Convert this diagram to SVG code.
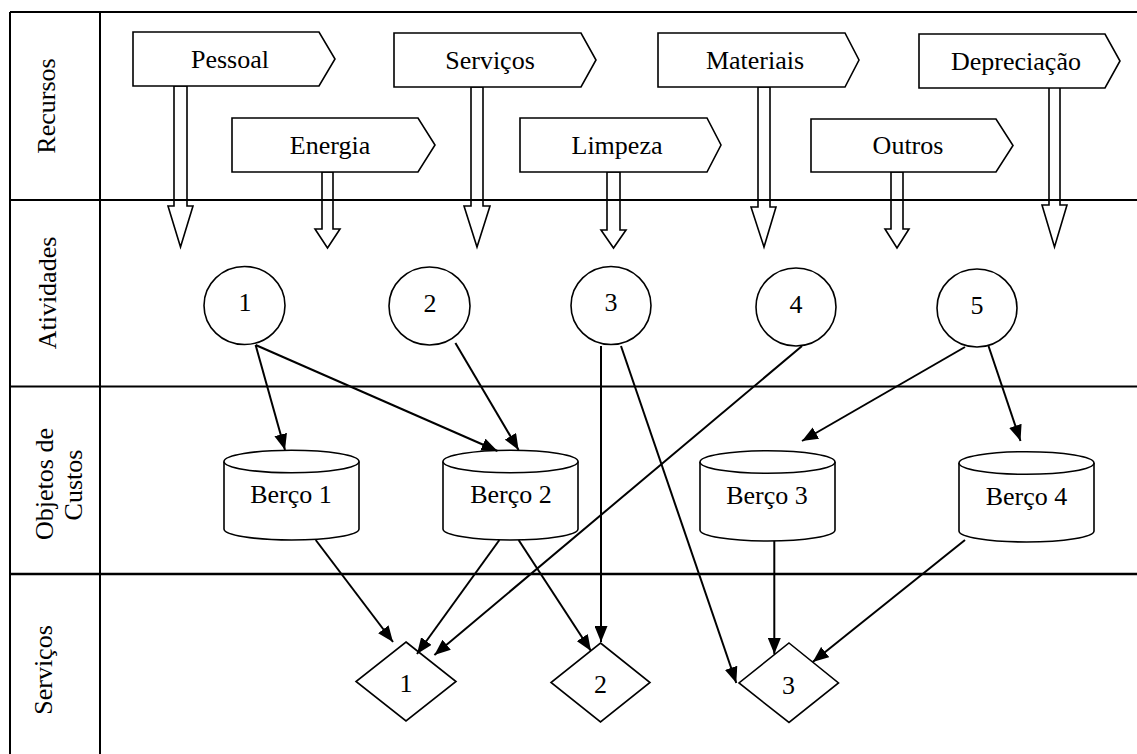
<svg xmlns="http://www.w3.org/2000/svg" width="1137" height="754" viewBox="0 0 1137 754">
  <style>
    text { font-family: "Liberation Serif", "Times New Roman", serif; font-size: 26px; fill: #000; }
    .mid { text-anchor: middle; }
    .shape { fill: #fff; stroke: #000; stroke-width: 1.6; }
    .grid { stroke: #000; stroke-width: 2; fill: none; }
    .conn { stroke: #000; stroke-width: 2; fill: none; marker-end: url(#head); }
  </style>
  <defs>
    <marker id="head" markerUnits="userSpaceOnUse" markerWidth="16" markerHeight="13" refX="16" refY="6.5" orient="auto">
      <path d="M0,0 L16,6.5 L0,13 z" fill="#000"/>
    </marker>
  </defs>

  <rect width="1137" height="754" fill="#fff"/>

  <!-- resource tags with their block arrows -->
  <g id="res-pessoal">
    <polygon class="shape" points="174,86 187,86 187,206 193,206 180.5,247 168,206 174,206"/>
    <polygon class="shape" points="133,32 319,32 335,59 319,86 133,86"/>
    <text class="mid" x="230" y="68">Pessoal</text>
  </g>
  <g id="res-servicos">
    <polygon class="shape" points="471,87 483,87 483,206 490,206 477,247 464,206 471,206"/>
    <polygon class="shape" points="394,33 581,33 596,60 581,87 394,87"/>
    <text class="mid" x="490" y="69">Serviços</text>
  </g>
  <g id="res-materiais">
    <polygon class="shape" points="758,87 770,87 770,207 776,207 764,247 751,207 758,207"/>
    <polygon class="shape" points="658,33 845,33 859,60 845,87 658,87"/>
    <text class="mid" x="755" y="69">Materiais</text>
  </g>
  <g id="res-depreciacao">
    <polygon class="shape" points="1049,87 1060,87 1060,205 1067,205 1054.5,247 1042,205 1049,205"/>
    <polygon class="shape" points="919,34 1105,34 1120,61 1105,88 919,88"/>
    <text class="mid" x="1016" y="70">Depreciação</text>
  </g>
  <g id="res-energia">
    <polygon class="shape" points="322,172 333,172 333,229 340,229 327.5,248 315,229 322,229"/>
    <polygon class="shape" points="232,118 418,118 435,145 418,172 232,172"/>
    <text class="mid" x="330" y="154">Energia</text>
  </g>
  <g id="res-limpeza">
    <polygon class="shape" points="607,172 620,172 620,230 626,230 613.5,248 601,230 607,230"/>
    <polygon class="shape" points="520,118 707,118 721,145 707,172 520,172"/>
    <text class="mid" x="617" y="154">Limpeza</text>
  </g>
  <g id="res-outros">
    <polygon class="shape" points="891,172 903,172 903,229 909,229 897,248 885,229 891,229"/>
    <polygon class="shape" points="811,119 996,119 1013,145.5 996,172 811,172"/>
    <text class="mid" x="908" y="154">Outros</text>
  </g>

  <!-- table frame and swimlane lines -->
  <g id="frame" class="grid">
    <line x1="10" y1="12" x2="1137" y2="12"/>
    <line x1="10" y1="12" x2="10" y2="754"/>
    <line x1="100" y1="12" x2="100" y2="754"/>
    <line x1="10" y1="200" x2="1137" y2="200"/>
    <line x1="10" y1="386.5" x2="1137" y2="386.5"/>
    <line x1="10" y1="574" x2="1137" y2="574" stroke-width="2.6"/>
  </g>

  <!-- lane titles -->
  <g id="lane-labels">
    <text class="mid" transform="translate(55,106) rotate(-90)">Recursos</text>
    <text class="mid" transform="translate(56,293) rotate(-90)">Atividades</text>
    <text class="mid" transform="translate(53,484) rotate(-90)">Objetos de</text>
    <text class="mid" transform="translate(82,485) rotate(-90)">Custos</text>
    <text class="mid" transform="translate(52,670) rotate(-90)">Serviços</text>
  </g>

  <!-- activities -->
  <g id="act-1"><ellipse class="shape" cx="244.5" cy="305.5" rx="40.5" ry="39"/><text class="mid" x="245" y="311">1</text></g>
  <g id="act-2"><ellipse class="shape" cx="429.5" cy="306" rx="40.5" ry="39"/><text class="mid" x="430" y="312">2</text></g>
  <g id="act-3"><ellipse class="shape" cx="611" cy="305.5" rx="40" ry="39"/><text class="mid" x="611" y="311">3</text></g>
  <g id="act-4"><ellipse class="shape" cx="796" cy="307" rx="40" ry="39"/><text class="mid" x="796" y="313">4</text></g>
  <g id="act-5"><ellipse class="shape" cx="977" cy="308" rx="40" ry="39"/><text class="mid" x="977" y="314">5</text></g>

  <!-- cost objects (cylinders) -->
  <g id="berco-1">
    <path class="shape" d="M224,461.5 L224,529 A67.5,11 0 0 0 359,529 L359,461.5"/>
    <ellipse class="shape" cx="291.5" cy="461.5" rx="67.5" ry="11.3"/>
    <text class="mid" x="291" y="503">Berço 1</text>
  </g>
  <g id="berco-2">
    <path class="shape" d="M443,461.5 L443,529 A67.5,11 0 0 0 578,529 L578,461.5"/>
    <ellipse class="shape" cx="510.5" cy="461.5" rx="67.5" ry="11.3"/>
    <text class="mid" x="511" y="503">Berço 2</text>
  </g>
  <g id="berco-3">
    <path class="shape" d="M700,462 L700,530 A67.5,11 0 0 0 835,530 L835,462"/>
    <ellipse class="shape" cx="767.5" cy="462" rx="67.5" ry="11.3"/>
    <text class="mid" x="767" y="504">Berço 3</text>
  </g>
  <g id="berco-4">
    <path class="shape" d="M959,463 L959,531 A67.5,11 0 0 0 1094,531 L1094,463"/>
    <ellipse class="shape" cx="1026.5" cy="463" rx="67.5" ry="11.3"/>
    <text class="mid" x="1026.5" y="505">Berço 4</text>
  </g>

  <!-- services (diamonds) -->
  <g id="serv-1"><polygon class="shape" points="406,642 456,681.5 406,721 356,681.5"/><text class="mid" x="406" y="692">1</text></g>
  <g id="serv-2"><polygon class="shape" points="600.5,643 650,682.5 600.5,722 551,682.5"/><text class="mid" x="600.5" y="693">2</text></g>
  <g id="serv-3"><polygon class="shape" points="789,643 838.5,683 789,722.5 739,683"/><text class="mid" x="788.5" y="694">3</text></g>

  <!-- connectors -->
  <g id="connectors">
    <line class="conn" x1="255.6" y1="345" x2="285" y2="450"/>
    <line class="conn" x1="255.6" y1="345" x2="497.5" y2="451"/>
    <line class="conn" x1="455.4" y1="343" x2="518.6" y2="450"/>
    <line class="conn" x1="601" y1="346" x2="601" y2="642"/>
    <line class="conn" x1="621" y1="346" x2="736.3" y2="683"/>
    <line class="conn" x1="802" y1="346" x2="434.4" y2="655"/>
    <line class="conn" x1="965" y1="347" x2="802" y2="441"/>
    <line class="conn" x1="988.5" y1="346" x2="1020.5" y2="441"/>
    <line class="conn" x1="315.7" y1="540" x2="393" y2="642"/>
    <line class="conn" x1="499.4" y1="540" x2="417" y2="654"/>
    <line class="conn" x1="518.6" y1="540" x2="591" y2="651"/>
    <line class="conn" x1="774.3" y1="541" x2="774.3" y2="654"/>
    <line class="conn" x1="965" y1="540" x2="812.7" y2="662"/>
  </g>
</svg>
